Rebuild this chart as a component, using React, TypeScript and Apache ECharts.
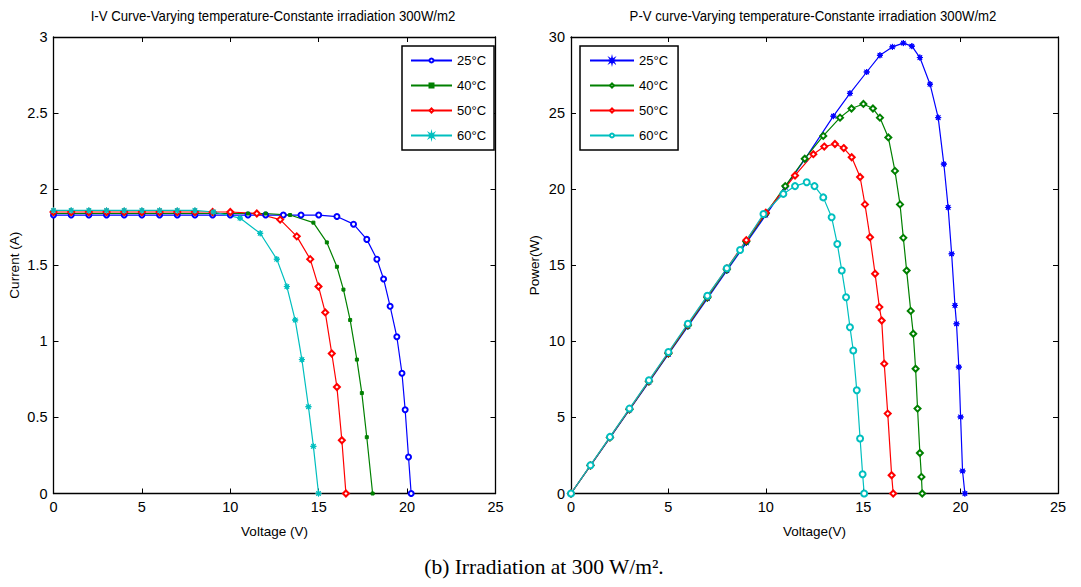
import React, { useEffect, useRef } from "react";
import * as echarts from "echarts";

// ---------- DATA ----------
const tempLabels = ["25°C", "40°C", "50°C", "60°C"];

// I-V curves: voltage (V) and current (A)
const iv25V = [0, 1, 2, 3, 4, 5, 6, 7, 8, 9, 10, 11, 12, 13, 14, 15, 16.03, 16.97, 17.72, 18.29, 18.67, 19.04, 19.42, 19.71, 19.89, 20.08, 20.23];
const iv25I = [1.83, 1.83, 1.83, 1.83, 1.83, 1.83, 1.83, 1.83, 1.83, 1.83, 1.83, 1.83, 1.83, 1.83, 1.83, 1.83, 1.82, 1.77, 1.67, 1.54, 1.41, 1.23, 1.03, 0.79, 0.55, 0.24, 0];

const iv40V = [0, 1, 2, 3, 4, 5, 6, 7, 8, 9, 10, 11, 12, 13.38, 14.7, 15.46, 16.03, 16.4, 16.78, 17.16, 17.44, 17.72, 18.05];
const iv40I = [1.84, 1.84, 1.84, 1.84, 1.84, 1.84, 1.84, 1.84, 1.84, 1.84, 1.84, 1.84, 1.84, 1.83, 1.78, 1.65, 1.49, 1.34, 1.14, 0.88, 0.66, 0.37, 0];

const iv50V = [0, 1, 2, 3, 4, 5, 6, 7, 8, 9, 10, 11.5, 12.82, 13.76, 14.52, 14.99, 15.37, 15.74, 16.03, 16.31, 16.54];
const iv50I = [1.85, 1.85, 1.85, 1.85, 1.85, 1.85, 1.85, 1.85, 1.85, 1.85, 1.85, 1.84, 1.8, 1.69, 1.54, 1.36, 1.19, 0.92, 0.7, 0.35, 0];

const iv60V = [0, 1, 2, 3, 4, 5, 6, 7, 8, 9.05, 10.55, 11.69, 12.63, 13.2, 13.67, 14.05, 14.42, 14.7, 14.99];
const iv60I = [1.86, 1.86, 1.86, 1.86, 1.86, 1.86, 1.86, 1.86, 1.86, 1.85, 1.81, 1.71, 1.54, 1.36, 1.14, 0.88, 0.57, 0.31, 0];

// P-V curves: voltage (V) and power (W)
const pv25V = [0, 1, 2, 3, 4, 5, 6, 7, 8, 9, 10, 11, 12, 13.47, 14.32, 15.18, 15.86, 16.5, 17.06, 17.5, 17.91, 18.43, 18.85, 19.14, 19.36, 19.54, 19.71, 19.79, 19.91, 20.0, 20.1, 20.22];
const pv25P = [0, 1.83, 3.66, 5.49, 7.32, 9.15, 10.98, 12.81, 14.64, 16.47, 18.3, 20.13, 21.96, 24.8, 26.3, 27.7, 28.8, 29.35, 29.6, 29.4, 28.65, 26.9, 24.7, 21.65, 18.8, 15.75, 12.36, 11.15, 8.31, 5.03, 1.48, 0];

const pv40V = [0, 1, 2, 3, 4, 5, 6, 7, 8, 9, 10, 11, 12, 12.95, 13.81, 14.4, 15.01, 15.5, 15.86, 16.29, 16.63, 16.89, 17.06, 17.23, 17.44, 17.57, 17.69, 17.79, 17.91, 17.99, 18.03];
const pv40P = [0, 1.84, 3.68, 5.52, 7.36, 9.2, 11.04, 12.88, 14.72, 16.56, 18.4, 20.2, 22.0, 23.5, 24.7, 25.3, 25.6, 25.3, 24.7, 23.4, 21.2, 19.0, 16.8, 14.65, 12.0, 10.5, 8.2, 5.58, 2.66, 1.09, 0];

const pv50V = [0, 1, 2, 3, 4, 5, 6, 7, 8, 9, 10, 11.5, 12.44, 13.0, 13.55, 14.0, 14.41, 14.84, 15.09, 15.35, 15.61, 15.83, 15.95, 16.08, 16.26, 16.46, 16.54];
const pv50P = [0, 1.85, 3.7, 5.55, 7.4, 9.25, 11.1, 12.95, 14.8, 16.65, 18.45, 20.9, 22.3, 22.8, 22.97, 22.7, 22.1, 20.8, 19.0, 16.84, 14.44, 12.25, 11.37, 8.53, 5.25, 1.2, 0];

const pv60V = [0, 1, 2, 3, 4, 5, 6, 7, 8, 8.68, 9.88, 10.9, 11.5, 12.1, 12.5, 12.95, 13.38, 13.67, 13.9, 14.12, 14.32, 14.49, 14.67, 14.84, 14.97, 15.05];
const pv60P = [0, 1.86, 3.72, 5.58, 7.44, 9.3, 11.16, 13.0, 14.8, 16.0, 18.37, 19.69, 20.2, 20.45, 20.2, 19.46, 18.15, 16.4, 14.65, 12.9, 10.93, 9.4, 6.78, 3.61, 1.27, 0];

const ivTicksX = { min: 0, max: 25, interval: 5 };
const ivTicksY = { min: 0, max: 3, interval: 0.5 };
const pvTicksY = { min: 0, max: 30, interval: 5 };

const titles = [
  "I-V Curve-Varying temperature-Constante irradiation 300W/m2",
  "P-V curve-Varying temperature-Constante irradiation 300W/m2",
];
const caption = "(b) Irradiation at 300 W/m².";

// ---------- STYLE ----------
const SANS = "'Liberation Sans', Arial, Helvetica, sans-serif";
const SERIF = "'Liberation Serif', 'Times New Roman', 'DejaVu Serif', serif";
const COLORS = ["#0000ff", "#008000", "#ff0000", "#00bfbf"];
const ASTERISK =
  "path://M0,-10 L1.5,-3.6 L7.1,-7.1 L3.6,-1.5 L10,0 L3.6,1.5 L7.1,7.1 L1.5,3.6 L0,10 L-1.5,3.6 L-7.1,7.1 L-3.6,1.5 L-10,0 L-3.6,-1.5 L-7.1,-7.1 L-1.5,-3.6 Z";

const zip = (a: number[], b: number[]) => a.map((v, i) => [v, b[i]]);

function axisBase(extra: any) {
  return {
    type: "value",
    axisLine: { show: true, onZero: false, lineStyle: { color: "#000", width: 1.3 } },
    axisTick: { show: true, inside: true, length: 5, lineStyle: { color: "#000", width: 1 } },
    splitLine: { show: false },
    axisLabel: { color: "#000", fontSize: 14.5, fontFamily: SANS, margin: 6 },
    nameTextStyle: { color: "#000", fontSize: 13.5, fontFamily: SANS },
    ...extra,
  };
}

export default function App() {
  const ref = useRef<HTMLDivElement>(null);
  useEffect(() => {
    if (!ref.current) return;
    const chart = echarts.init(ref.current, null, { renderer: "svg" });

    const ivSymbols = [
      { symbol: "emptyCircle", symbolSize: 5 },
      { symbol: "rect", symbolSize: 3 },
      { symbol: "emptyDiamond", symbolSize: 6 },
      { symbol: ASTERISK, symbolSize: 6 },
    ];
    const pvSymbols = [
      { symbol: ASTERISK, symbolSize: 6 },
      { symbol: "emptyDiamond", symbolSize: 6 },
      { symbol: "emptyDiamond", symbolSize: 6 },
      { symbol: "emptyCircle", symbolSize: 6 },
    ];
    const ivData = [zip(iv25V, iv25I), zip(iv40V, iv40I), zip(iv50V, iv50I), zip(iv60V, iv60I)];
    const pvData = [zip(pv25V, pv25P), zip(pv40V, pv40P), zip(pv50V, pv50P), zip(pv60V, pv60P)];

    const series: any[] = [];
    ivData.forEach((d, i) => {
      series.push({
        type: "line",
        name: tempLabels[i],
        xAxisIndex: 0,
        yAxisIndex: 0,
        data: d,
        color: COLORS[i],
        ...ivSymbols[i],
        showSymbol: true,
        lineStyle: { width: 1.2, color: COLORS[i] },
        itemStyle: { color: COLORS[i], borderColor: COLORS[i], borderWidth: 1 },
        emphasis: { disabled: true },
      });
    });
    pvData.forEach((d, i) => {
      series.push({
        type: "line",
        name: tempLabels[i] + " ",
        xAxisIndex: 2,
        yAxisIndex: 2,
        data: d,
        color: COLORS[i],
        ...pvSymbols[i],
        showSymbol: true,
        lineStyle: { width: 1.2, color: COLORS[i] },
        itemStyle: { color: COLORS[i], borderColor: COLORS[i], borderWidth: 1 },
        emphasis: { disabled: true },
      });
    });

    const legendBase = {
      orient: "vertical",
      top: 46,
      itemGap: 10,
      itemHeight: 5,
      borderColor: "#000",
      borderWidth: 1.5,
      backgroundColor: "#fff",
      borderRadius: 0,
      selectedMode: false,
      textStyle: { fontSize: 13, fontFamily: SANS, color: "#000", lineHeight: 15 },
    };

    chart.setOption({
      animation: false,
      backgroundColor: "#fff",
      grid: [
        { left: 53.5, top: 37, width: 442, height: 456.5 },
        { left: 571, top: 37, width: 487, height: 456.5 },
      ],
      xAxis: [
        axisBase({ gridIndex: 0, position: "bottom", ...ivTicksX, name: "Voltage (V)", nameLocation: "middle", nameGap: 31 }),
        axisBase({ gridIndex: 0, position: "top", ...ivTicksX, axisLabel: { show: false } }),
        axisBase({ gridIndex: 1, position: "bottom", ...ivTicksX, name: "Voltage(V)", nameLocation: "middle", nameGap: 31 }),
        axisBase({ gridIndex: 1, position: "top", ...ivTicksX, axisLabel: { show: false } }),
      ],
      yAxis: [
        axisBase({ gridIndex: 0, position: "left", ...ivTicksY, name: "Current (A)", nameLocation: "middle", nameGap: 32 }),
        axisBase({ gridIndex: 0, position: "right", ...ivTicksY, axisLabel: { show: false } }),
        axisBase({ gridIndex: 1, position: "left", ...pvTicksY, name: "Power(W)", nameLocation: "middle", nameGap: 30 }),
        axisBase({ gridIndex: 1, position: "right", ...pvTicksY, axisLabel: { show: false } }),
      ],
      legend: [
        { ...legendBase, left: 402, itemWidth: 41, padding: [7, 8, 7, 8], data: tempLabels },
        {
          ...legendBase,
          left: 580,
          itemWidth: 44,
          padding: [7, 10, 7, 9],
          data: tempLabels.map((t) => t + " "),
          formatter: (n: string) => n.trim(),
        },
      ],
      graphic: [
        {
          type: "text",
          x: 273,
          y: 16,
          scaleX: 0.88,
          style: { text: titles[0], fill: "#000", font: `15px ${SANS}`, textAlign: "center", textVerticalAlign: "middle" },
        },
        {
          type: "text",
          x: 813,
          y: 16,
          scaleX: 0.88,
          style: { text: titles[1], fill: "#000", font: `15px ${SANS}`, textAlign: "center", textVerticalAlign: "middle" },
        },
        {
          type: "text",
          x: 544,
          y: 567,
          style: { text: caption, fill: "#000", font: `21.5px ${SERIF}`, textAlign: "center", textVerticalAlign: "middle" },
        },
      ],
      series,
    });
    return () => chart.dispose();
  }, []);
  return <div ref={ref} style={{ position: "fixed", left: 0, top: 0, width: 1081, height: 587 }} />;
}
